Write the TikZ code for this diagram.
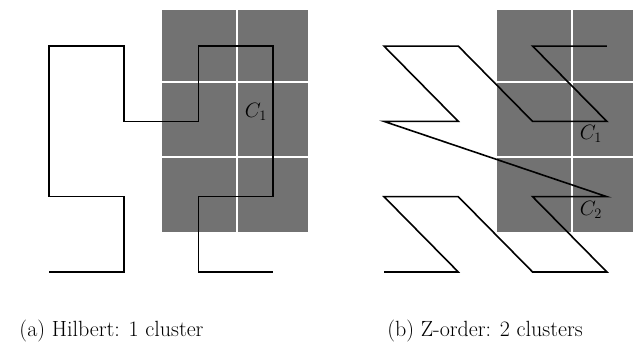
\documentclass[tikz,border=0pt]{standalone}
\definecolor{blockgrey}{HTML}{727272}
\tikzset{
  curve/.style={line width=1.6pt,line join=miter},
  cellline/.style={white,line width=1.8pt},
  cluster/.style={inner sep=0pt,text=black},
  caption/.style={anchor=base,inner sep=0pt}
}
% grey block of query cells, with the white cell borders on top
\newcommand{\queryblock}[3]{%
  \fill[blockgrey] (#1,129) rectangle (#2,351);
  \draw[cellline] (#3,129) -- (#3,351);
  \draw[cellline] (#1,204) -- (#2,204);
  \draw[cellline] (#1,279) -- (#2,279);
}

\begin{document}
\begin{tikzpicture}[x=1pt,y=1pt,font=\fontsize{22}{26}\selectfont]
  \useasboundingbox (0,0) rectangle (633,361);

  \queryblock{162}{308}{237}
  \queryblock{497}{633}{572}

  % 4x4 cell centres for both orderings
  \foreach \i in {0,...,3}{
    \foreach \j in {0,...,3}{
      \coordinate (h\i\j) at ({49+74.7*\i},{89+75.3*\j});
      \coordinate (z\i\j) at ({384+74.3*\i},{89+75.3*\j});
    }
  }

  % Hilbert order
  \draw[curve] (h00) -- (h10) -- (h11) -- (h01) -- (h02) -- (h03) -- (h13) -- (h12)
    -- (h22) -- (h23) -- (h33) -- (h32) -- (h31) -- (h21) -- (h20) -- (h30);

  % Z order
  \draw[curve] (z00) -- (z10) -- (z01) -- (z11) -- (z20) -- (z30) -- (z21) -- (z31)
    -- (z02) -- (z12) -- (z03) -- (z13) -- (z22) -- (z32) -- (z23) -- (z33);

  \node[cluster] (hc1) at (256,249) {$C_1$};
  \node[cluster] (zc1) at (591,227) {$C_1$};
  \node[cluster] (zc2) at (591,151) {$C_2$};

  \node[caption] (capa) at (111.5,24) {(a) Hilbert: 1 cluster};
  \node[caption] (capb) at (485,24) {(b) Z-order: 2 clusters};
\end{tikzpicture}
\end{document}
